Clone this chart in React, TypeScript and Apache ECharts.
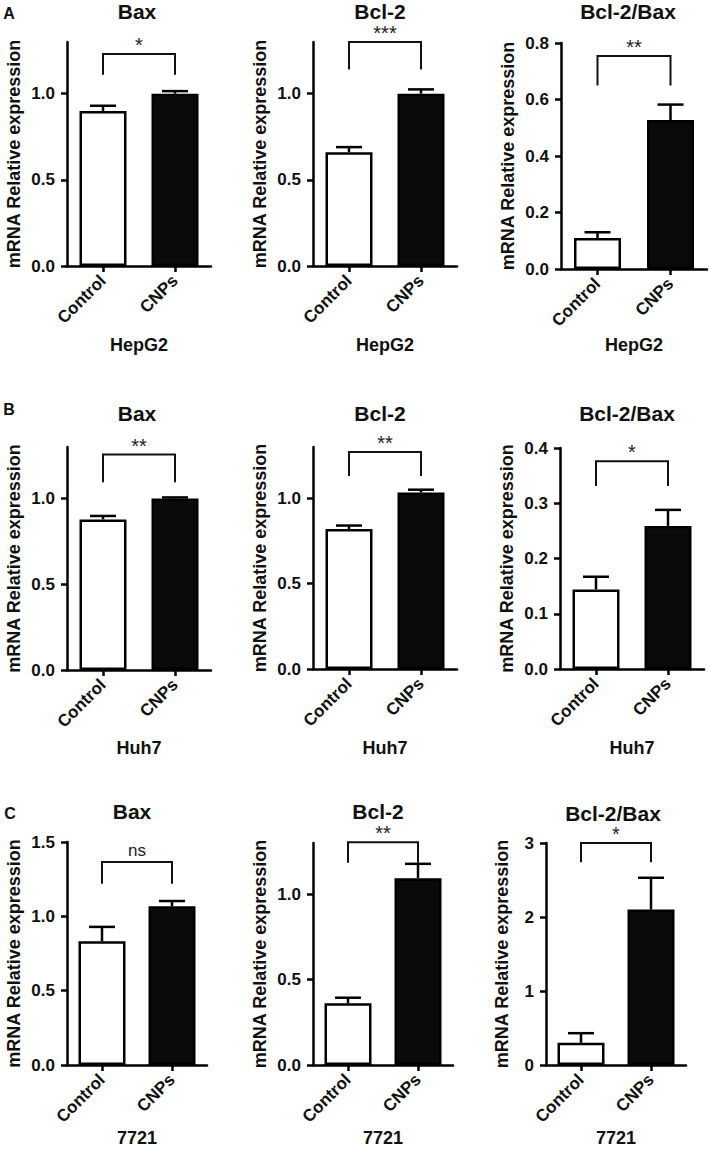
import React, { useEffect, useRef } from "react";
import * as echarts from "echarts";

// ---------- data ----------
const categories = ["Control", "CNPs"];
const geneTitles = ["Bax", "Bcl-2", "Bcl-2/Bax"];
const cellLines = ["HepG2", "Huh7", "7721"];
const panelLetters = ["A", "B", "C"];
const yAxisTitle = "mRNA Relative expression";

// HepG2
const hepg2BaxMean = [0.9, 1.0];
const hepg2BaxSem = [0.03, 0.015];
const hepg2Bcl2Mean = [0.66, 1.0];
const hepg2Bcl2Sem = [0.03, 0.025];
const hepg2RatioMean = [0.11, 0.527];
const hepg2RatioSem = [0.02, 0.055];
// Huh7
const huh7BaxMean = [0.878, 1.0];
const huh7BaxSem = [0.02, 0.006];
const huh7Bcl2Mean = [0.82, 1.033];
const huh7Bcl2Sem = [0.02, 0.017];
const huh7RatioMean = [0.144, 0.259];
const huh7RatioSem = [0.023, 0.029];
// 7721
const c7721BaxMean = [0.833, 1.068];
const c7721BaxSem = [0.096, 0.035];
const c7721Bcl2Mean = [0.361, 1.094];
const c7721Bcl2Sem = [0.033, 0.084];
const c7721RatioMean = [0.3, 2.1];
const c7721RatioSem = [0.13, 0.43];

// significance brackets
const sigLabels = ["*", "***", "**", "**", "**", "*", "ns", "**", "*"];
const sigBracketTop = [1.23, 1.3, 0.754, 1.256, 1.27, 0.376, 1.366, 1.305, 3.0];
const sigBracketLeg = [1.11, 1.14, 0.65, 1.095, 1.13, 0.331, 1.22, 1.185, 2.74];

// y axes
const yMax = [1.3, 1.3, 0.8, 1.3, 1.3, 0.4, 1.5, 1.3, 3];
const yTicksA1 = [0, 0.5, 1.0];
const yTicksA2 = [0, 0.5, 1.0];
const yTicksA3 = [0, 0.2, 0.4, 0.6, 0.8];
const yTicksB1 = [0, 0.5, 1.0];
const yTicksB2 = [0, 0.5, 1.0];
const yTicksB3 = [0, 0.1, 0.2, 0.3, 0.4];
const yTicksC1 = [0, 0.5, 1.0, 1.5];
const yTicksC2 = [0, 0.5, 1.0];
const yTicksC3 = [0, 1, 2, 3];
const yDecimals = [1, 1, 1, 1, 1, 1, 1, 1, 0];

const means = [
  hepg2BaxMean, hepg2Bcl2Mean, hepg2RatioMean,
  huh7BaxMean, huh7Bcl2Mean, huh7RatioMean,
  c7721BaxMean, c7721Bcl2Mean, c7721RatioMean,
];
const sems = [
  hepg2BaxSem, hepg2Bcl2Sem, hepg2RatioSem,
  huh7BaxSem, huh7Bcl2Sem, huh7RatioSem,
  c7721BaxSem, c7721Bcl2Sem, c7721RatioSem,
];
const yTicks = [yTicksA1, yTicksA2, yTicksA3, yTicksB1, yTicksB2, yTicksB3, yTicksC1, yTicksC2, yTicksC3];

// ---------- layout / style ----------
const W = 709;
const H = 1152;
const FONT = "Liberation Sans, Arial, Helvetica, sans-serif";
const grids = [
  { left: 67, top: 42, width: 144, bottom: 266 },
  { left: 313, top: 42, width: 144, bottom: 266 },
  { left: 561, top: 43, width: 146, bottom: 269 },
  { left: 67, top: 447, width: 144, bottom: 670 },
  { left: 313, top: 447, width: 144, bottom: 669 },
  { left: 560, top: 448, width: 144, bottom: 669 },
  { left: 67, top: 842, width: 140, bottom: 1065 },
  { left: 313, top: 843, width: 140, bottom: 1065 },
  { left: 546, top: 843, width: 140, bottom: 1065 },
];
const titlePos = [
  [137, 11], [380, 11], [628, 11],
  [137, 413], [380, 413], [627, 413],
  [132, 811], [378, 811], [613, 813],
];
const letterPos = [[9, 13], [9, 409], [10, 813]];
const xNameGap = [70, 70, 67, 69, 70, 70, 64, 64, 64];
const yNameGap = [44, 44, 44, 44, 44, 44, 44, 44, 35];
const barFill = ["#ffffff", "#0a0a0a"];

function buildOption() {
  const grid: any[] = [];
  const xAxis: any[] = [];
  const yAxis: any[] = [];
  const series: any[] = [];
  const graphic: any[] = [];

  for (let p = 0; p < 9; p++) {
    const g = grids[p];
    const row = Math.floor(p / 3);
    const col = p % 3;
    grid.push({
      left: g.left,
      top: g.top,
      width: g.width,
      height: g.bottom - g.top,
      containLabel: false,
    });
    xAxis.push({
      type: "category",
      gridIndex: p,
      data: categories,
      boundaryGap: true,
      name: cellLines[row],
      nameLocation: "middle",
      nameGap: xNameGap[p],
      nameTextStyle: { fontFamily: FONT, fontWeight: "bold", fontSize: 18, color: "#111" },
      axisLine: { show: true, lineStyle: { color: "#000", width: 2.5 } },
      axisTick: { show: true, alignWithLabel: true, length: 6, lineStyle: { color: "#000", width: 2.5 } },
      axisLabel: {
        rotate: 45,
        margin: 12,
        fontFamily: FONT,
        fontWeight: "bold",
        fontSize: 17,
        color: "#111",
      },
      splitLine: { show: false },
    });
    const dec = yDecimals[p];
    yAxis.push({
      type: "value",
      gridIndex: p,
      min: 0,
      max: yMax[p],
      name: yAxisTitle,
      nameLocation: "middle",
      nameGap: yNameGap[p],
      nameTextStyle: { fontFamily: FONT, fontWeight: "bold", fontSize: 18, color: "#111" },
      axisLine: { show: true, lineStyle: { color: "#000", width: 2.5 } },
      axisTick: { show: true, length: 6, lineStyle: { color: "#000", width: 2.5 }, customValues: yTicks[p] },
      axisLabel: {
        margin: 12,
        fontFamily: FONT,
        fontWeight: "bold",
        fontSize: 17,
        color: "#111",
        customValues: yTicks[p],
        formatter: (v: number) => v.toFixed(dec),
      },
      splitLine: { show: false },
    });

    series.push({
      type: "bar",
      xAxisIndex: p,
      yAxisIndex: p,
      barWidth: 47,
      data: means[p].map((v, i) => ({
        value: v,
        itemStyle: { color: barFill[i], borderColor: "#000", borderWidth: 2.5 },
      })),
      z: 2,
    });

    series.push({
      type: "custom",
      xAxisIndex: p,
      yAxisIndex: p,
      z: 3,
      clip: false,
      encode: { x: 0, y: 1 },
      data: means[p].map((v, i) => [i, v, sems[p][i]]),
      renderItem: (params: any, api: any) => {
        const i = api.value(0);
        const m = api.value(1);
        const e = api.value(2);
        const p0 = api.coord([i, m]);
        const p1 = api.coord([i, m + e]);
        const st = { stroke: "#000", lineWidth: 2.5 };
        return {
          type: "group",
          children: [
            { type: "line", shape: { x1: p0[0], y1: p0[1], x2: p1[0], y2: p1[1] }, style: st },
            { type: "line", shape: { x1: p1[0] - 13, y1: p1[1], x2: p1[0] + 13, y2: p1[1] }, style: st },
          ],
        };
      },
    });

    const label = sigLabels[p];
    series.push({
      type: "custom",
      xAxisIndex: p,
      yAxisIndex: p,
      z: 3,
      clip: false,
      encode: { x: 0, y: 1 },
      data: [[0, sigBracketTop[p], sigBracketLeg[p]]],
      renderItem: (params: any, api: any) => {
        const top = api.value(1);
        const leg = api.value(2);
        const a = api.coord([0, top]);
        const b = api.coord([1, top]);
        const la = api.coord([0, leg]);
        const lb = api.coord([1, leg]);
        const isNs = label === "ns";
        return {
          type: "group",
          children: [
            {
              type: "polyline",
              shape: { points: [la, a, b, lb] },
              style: { stroke: "#111", lineWidth: 2, fill: null },
            },
            {
              type: "text",
              x: (a[0] + b[0]) / 2,
              y: a[1] - (isNs ? 3 : -1),
              style: {
                text: label,
                align: "center",
                verticalAlign: "bottom",
                fontFamily: FONT,
                fontSize: isNs ? 17 : 20,
                fill: "#222",
              },
            },
          ],
        };
      },
    });

    graphic.push({
      type: "text",
      x: titlePos[p][0],
      y: titlePos[p][1],
      style: {
        text: geneTitles[col],
        align: "center",
        verticalAlign: "middle",
        fontFamily: FONT,
        fontWeight: "bold",
        fontSize: 21,
        fill: "#111",
      },
    });
  }

  for (let r = 0; r < 3; r++) {
    graphic.push({
      type: "text",
      x: letterPos[r][0],
      y: letterPos[r][1],
      style: {
        text: panelLetters[r],
        align: "center",
        verticalAlign: "middle",
        fontFamily: FONT,
        fontWeight: "bold",
        fontSize: 16,
        fill: "#111",
      },
    });
  }

  return {
    animation: false,
    backgroundColor: "#ffffff",
    grid,
    xAxis,
    yAxis,
    series,
    graphic,
  };
}

export default function App() {
  const ref = useRef<HTMLDivElement>(null);
  useEffect(() => {
    document.body.style.margin = "0";
    if (!ref.current) return;
    const chart = echarts.init(ref.current, null, { renderer: "svg", width: W, height: H });
    chart.setOption(buildOption() as any);
    return () => chart.dispose();
  }, []);
  return <div ref={ref} style={{ width: W, height: H, position: "absolute", left: 0, top: 0 }} />;
}
